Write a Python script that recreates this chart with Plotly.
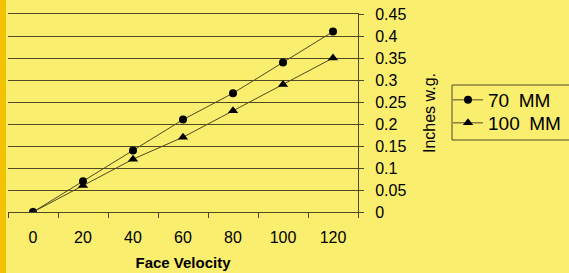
import plotly.graph_objects as go

categories = ["0", "20", "40", "60", "80", "100", "120"]
mm70 = [0, 0.07, 0.14, 0.21, 0.27, 0.34, 0.41]
mm100 = [0, 0.06, 0.12, 0.17, 0.23, 0.29, 0.35]
yticks = [0, 0.05, 0.1, 0.15, 0.2, 0.25, 0.3, 0.35, 0.4, 0.45]
ytick_text = ["0", "0.05", "0.1", "0.15", "0.2", "0.25", "0.3", "0.35", "0.4", "0.45"]
series_names = ["70\u2002MM", "100\u2002MM"]

BG = "#FAEE6E"
LINE = "#4F4A22"
FONT = "Liberation Sans, Arial, sans-serif"

fig = go.Figure()
fig.add_trace(go.Scatter(x=categories, y=mm70, name=series_names[0], mode="lines+markers",
                         line=dict(color=LINE, width=1), legend="legend",
                         marker=dict(symbol="circle", size=8, color="black")))
fig.add_trace(go.Scatter(x=categories, y=mm100, name=series_names[1], mode="lines+markers",
                         line=dict(color=LINE, width=1), legend="legend2",
                         marker=dict(symbol="triangle-up", size=9, color="black")))

leg_common = dict(xanchor="left", yanchor="middle", bgcolor="rgba(0,0,0,0)", borderwidth=0,
                  font=dict(size=19, family=FONT), itemwidth=30)

fig.update_layout(
    width=569, height=273,
    margin=dict(l=8, r=211, t=14, b=61, autoexpand=False),
    paper_bgcolor=BG, plot_bgcolor=BG,
    font=dict(family=FONT, color="black"),
    showlegend=True,
    legend=dict(x=(448 - 8) / 350, y=(212 - 100) / 198, **leg_common),
    legend2=dict(x=(448 - 8) / 350, y=(212 - 123) / 198, **leg_common),
    xaxis=dict(type="category", range=[-0.5, 6.5], tickson="boundaries",
               showgrid=False, ticks="outside", ticklen=5, tickcolor=LINE,
               showline=True, linecolor=LINE, linewidth=1, mirror=True,
               tickfont=dict(size=16), zeroline=False, ticklabelstandoff=11,
               title=dict(text="<b>Face Velocity</b>", font=dict(size=15), standoff=12)),
    yaxis=dict(side="right", range=[0, 0.45], tickvals=yticks, ticktext=ytick_text,
               showgrid=True, gridcolor=LINE, gridwidth=1,
               ticks="outside", ticklen=5, tickcolor=LINE,
               showline=True, linecolor=LINE, linewidth=1, zeroline=False,
               tickfont=dict(size=16), ticklabelstandoff=8,
               title=dict(text="Inches w.g.", font=dict(size=16), standoff=18)),
    shapes=[
        dict(type="rect", xref="paper", yref="paper", x0=-8 / 350, x1=-2 / 350,
             y0=-61 / 198, y1=(273 - 61) / 198 + 14 / 198, fillcolor="#F2C200",
             line=dict(width=0), layer="below"),
        dict(type="rect", xref="paper", yref="paper", x0=(452 - 8) / 350, x1=(580 - 8) / 350,
             y0=(212 - 140) / 198, y1=(212 - 85) / 198, fillcolor="rgba(0,0,0,0)",
             line=dict(color=LINE, width=1), layer="above"),
    ],
)

fig.write_html("out.html", config={"displayModeBar": False},
               post_script="document.body.style.margin='0';")
